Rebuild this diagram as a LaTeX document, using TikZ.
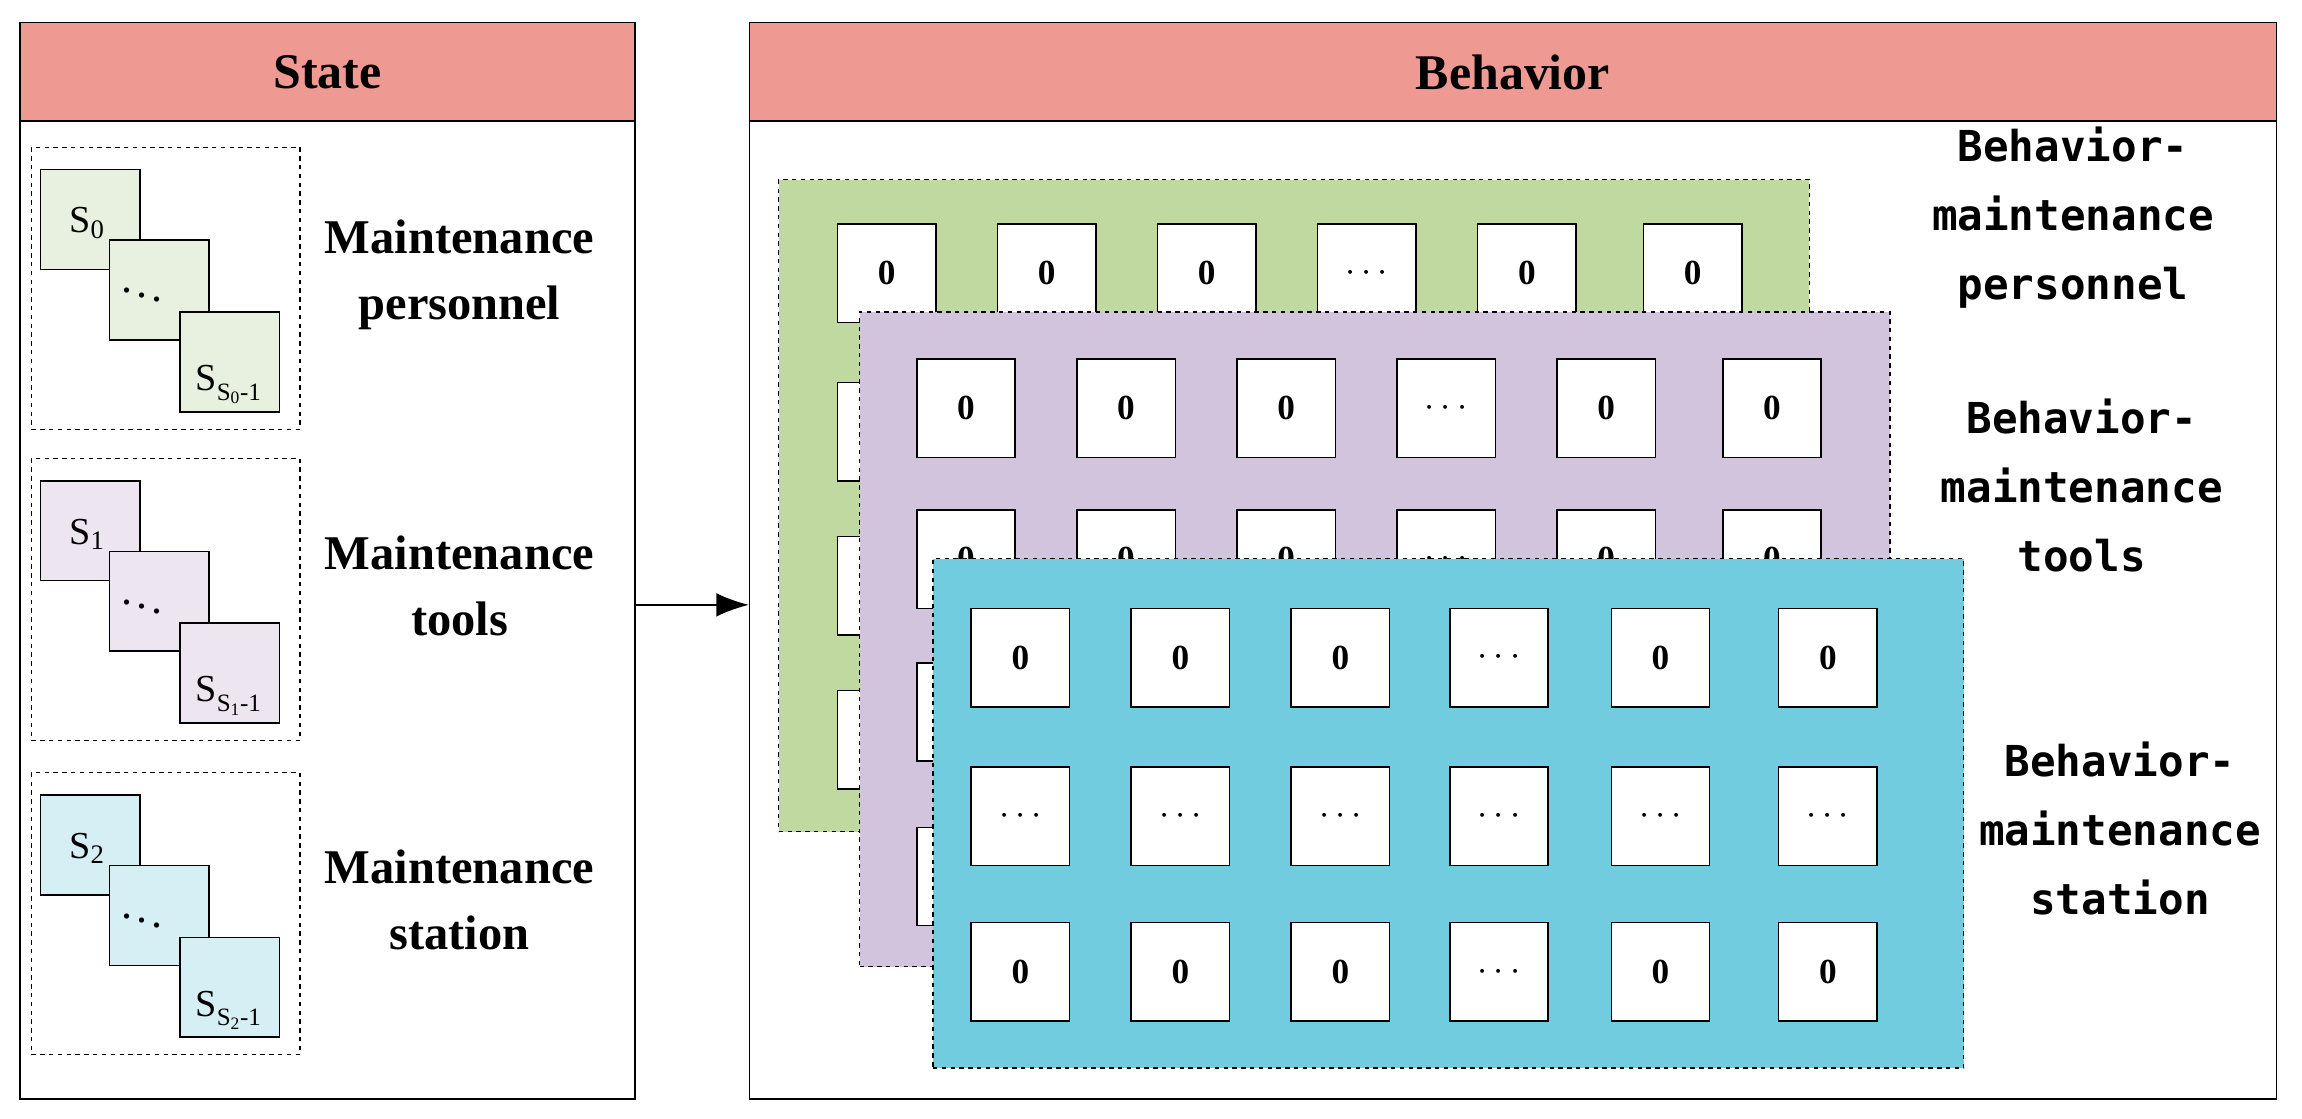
\documentclass[tikz,border=0pt]{standalone}
\usepackage{fontspec}
\usetikzlibrary{arrows.meta}
\setmainfont{Liberation Serif}
\newfontfamily\monof{DejaVu Sans Mono}
\begin{document}
\begin{tikzpicture}[x=1pt,y=-1pt,
  panel/.style={draw,line width=1pt},
  head/.style={draw,line width=1pt,fill=headc},
  dbox/.style={draw,dashed,line width=0.8pt},
  sq/.style={draw,line width=1pt,minimum width=68pt,minimum height=68pt,inner sep=0pt,anchor=north west,font=\bfseries\fontsize{22}{22}\selectfont},
  cell/.style={draw,fill=white,line width=1pt,minimum width=67pt,minimum height=67pt,inner sep=0pt,anchor=north west,font=\bfseries\fontsize{24}{24}\selectfont},
  lay/.style={draw,dashed,line width=0.9pt},
  lab/.style={font=\bfseries\fontsize{33}{45}\selectfont,align=center},
  blab/.style={font=\monof\bfseries\fontsize{29}{47}\selectfont,align=center}]
\definecolor{headc}{HTML}{EE9A92}
\definecolor{g1}{HTML}{E8F1DF}
\definecolor{p1}{HTML}{EDE6F0}
\definecolor{c1}{HTML}{D6EFF4}
\definecolor{gL}{HTML}{C0D9A0}
\definecolor{pL}{HTML}{D2C4DD}
\definecolor{cL}{HTML}{70CCDE}
\useasboundingbox (0,0) rectangle (1568,762);
% panels
\node[panel,minimum width=419pt,minimum height=733pt,anchor=north west,inner sep=0pt] (statep) at (13,15) {};
\node[head,minimum width=419pt,minimum height=67pt,anchor=north west,inner sep=0pt,font=\bfseries\fontsize{34}{34}\selectfont] (stateh) at (13,15) {State};
\node[panel,minimum width=1040pt,minimum height=733pt,anchor=north west,inner sep=0pt] (behp) at (510,15) {};
\node[head,minimum width=1040pt,minimum height=67pt,anchor=north west,inner sep=0pt,font=\bfseries\fontsize{34}{34}\selectfont] (behh) at (510,15) {Behavior};
% state groups
\foreach \k/\dy/\col/\lbl/\ttl in {0/0/g1/0/{Maintenance\\personnel},1/212/p1/1/{Maintenance\\tools},2/426/c1/2/{Maintenance\\station}}{
  \node[dbox,minimum width=183pt,minimum height=192pt,anchor=north west,inner sep=0pt] (grp\k) at (21,100+\dy) {};
  \node[sq,fill=\col] (a\k) at (27,115+\dy) {};
  \node[anchor=west,inner sep=0pt,font=\fontsize{26}{26}\selectfont] (at\k) at (47,152+\dy) {S$_{\mathrm{\lbl}}$};
  \node[sq,fill=\col] (b\k) at (74,163+\dy) {};
  \node[inner sep=0pt,font=\fontsize{30}{30}\selectfont] (bt\k) at (97,198+\dy) {$\ddots$};
  \node[sq,fill=\col] (c\k) at (122,212+\dy) {};
  \node[anchor=west,inner sep=0pt,font=\fontsize{26}{26}\selectfont] (ct\k) at (133,262+\dy) {S\raisebox{-0.25em}{\fontsize{17}{17}\selectfont S$_{\mathrm{\lbl}}$-1}};
  \node[lab] (t\k) at (313,185+\dy+2) {\ttl};
}
% arrow
\coordinate (arS) at (432,412);
\coordinate (arE) at (510,412);
\draw[line width=1pt,-{Latex[length=22pt,width=16pt]}] (arS) -- (arE);
% green layer
\node[lay,fill=gL,minimum width=702pt,minimum height=444pt,anchor=north west,inner sep=0pt] (lg) at (530,122) {};
\foreach \r/\y in {1/152,2/260,3/365,4/470}{
  \foreach \c/\x/\t in {1/570/0,2/679/0,3/788/0,4/897/$\cdots$,5/1006/0,6/1119/0}{
    \node[cell] (g\r\c) at (\x,\y) {\t};
  }
}
% purple layer
\node[lay,fill=pL,minimum width=702pt,minimum height=446pt,anchor=north west,inner sep=0pt] (lp) at (585,212) {};
\foreach \r/\y in {1/244,2/347,3/451,4/563}{
  \foreach \c/\x/\t in {1/624/0,2/733/0,3/842/0,4/951/$\cdots$,5/1060/0,6/1173/0}{
    \node[cell] (p\r\c) at (\x,\y) {\t};
  }
}
% cyan layer
\node[lay,fill=cL,minimum width=702pt,minimum height=347pt,anchor=north west,inner sep=0pt] (lc) at (635,380) {};
\foreach \r/\y/\z in {1/414/0,2/522/$\cdots$,3/628/0}{
  \foreach \c/\x in {1/661,2/770,3/879,5/1097,6/1211}{
    \node[cell] (c\r\c) at (\x,\y) {\z};
  }
  \node[cell] (c\r4) at (987,\y) {$\cdots$};
}
% behavior labels
\node[blab] (bl1) at (1412,148) {Behavior-\\maintenance\\personnel};
\node[blab] (bl2) at (1418,331) {Behavior-\\maintenance\\tools};
\node[blab] (bl3) at (1444,564) {Behavior-\\maintenance\\station};
\end{tikzpicture}
\end{document}
